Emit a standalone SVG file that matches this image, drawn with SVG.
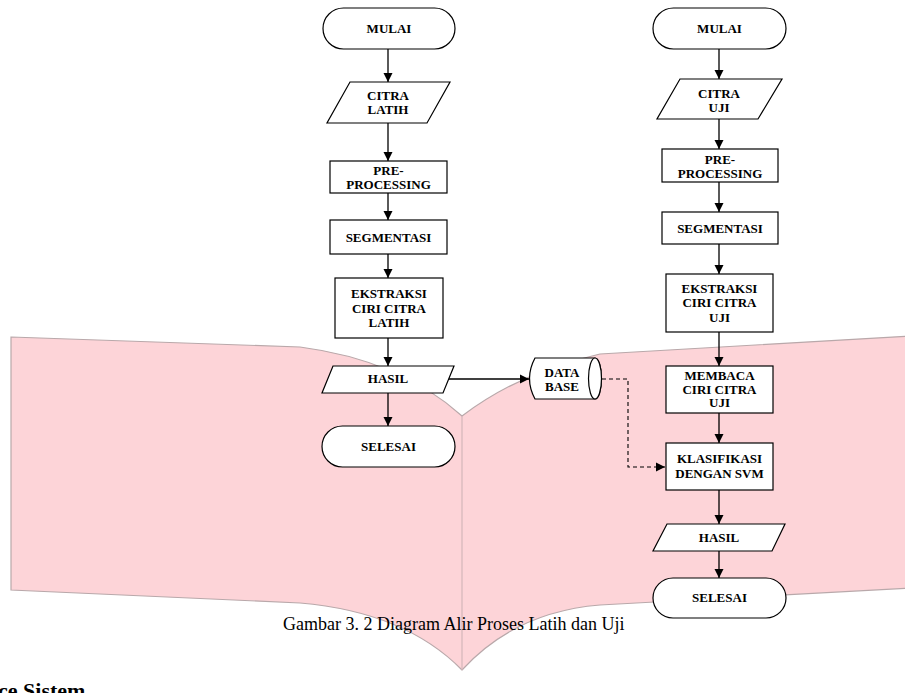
<svg xmlns="http://www.w3.org/2000/svg" width="905" height="693" viewBox="0 0 905 693">
<style>
.bg{fill:#fdd4d8;stroke:#b9a8aa;stroke-width:1.2}
.n{fill:#fff;stroke:#000;stroke-width:1.2}
.t{font-family:"Liberation Serif","Times New Roman",serif;font-weight:bold;font-size:13px;text-anchor:middle;fill:#000}
.c{fill:none;stroke:#000;stroke-width:1.3}
.d{fill:none;stroke:#000;stroke-width:1.1;stroke-dasharray:4 3}
.cap{font-family:"Liberation Serif","Times New Roman",serif;font-size:18px;fill:#000}
.hd{font-family:"Liberation Serif","Times New Roman",serif;font-size:22px;font-weight:bold;fill:#000}
</style>
<defs>
<marker id="ah" viewBox="0 0 10 10" refX="9" refY="5" markerWidth="10" markerHeight="10" orient="auto" markerUnits="userSpaceOnUse">
<path d="M0,0.5 L9,5 L0,9.5 Z" fill="#000"/>
</marker>
</defs>

<g id="book">
<path class="bg" d="M11,337 L300,347 Q400,360 462,416 Q520,372 600,354 L910,336 L910,588 L600,605 Q515,612 462,670 Q405,612 300,603 L11,590 Z"/>
<line x1="462" y1="416" x2="462" y2="670" stroke="#d4b6ba" stroke-width="1.2"/>
</g>

<g id="connectors">
<line class="c" x1="388" y1="49" x2="388" y2="82" marker-end="url(#ah)"/>
<line class="c" x1="388" y1="123" x2="388" y2="161" marker-end="url(#ah)"/>
<line class="c" x1="388" y1="193" x2="388" y2="220" marker-end="url(#ah)"/>
<line class="c" x1="388" y1="254" x2="388" y2="278" marker-end="url(#ah)"/>
<line class="c" x1="388" y1="338" x2="388" y2="366" marker-end="url(#ah)"/>
<line class="c" x1="388" y1="393" x2="388" y2="426" marker-end="url(#ah)"/>
<line class="c" x1="448" y1="379" x2="529" y2="379" marker-end="url(#ah)"/>
<path class="d" d="M602,379 L628,379 L628,467 L665,467" marker-end="url(#ah)"/>
<line class="c" x1="719" y1="49" x2="719" y2="79" marker-end="url(#ah)"/>
<line class="c" x1="719" y1="119" x2="719" y2="149" marker-end="url(#ah)"/>
<line class="c" x1="719" y1="182" x2="719" y2="212" marker-end="url(#ah)"/>
<line class="c" x1="719" y1="244" x2="719" y2="274" marker-end="url(#ah)"/>
<line class="c" x1="719" y1="332" x2="719" y2="366" marker-end="url(#ah)"/>
<line class="c" x1="719" y1="413" x2="719" y2="443" marker-end="url(#ah)"/>
<line class="c" x1="719" y1="490" x2="719" y2="524" marker-end="url(#ah)"/>
<line class="c" x1="719" y1="551" x2="719" y2="578" marker-end="url(#ah)"/>
</g>

<g id="l-mulai"><rect class="n" x="323" y="8" width="132" height="41" rx="20.5"/><text class="t" x="389" y="33">MULAI</text></g>
<g id="l-citra"><polygon class="n" points="350,82 450,82 427,123 327,123"/><text class="t" x="388" y="100">CITRA</text><text class="t" x="388" y="114">LATIH</text></g>
<g id="l-pre"><rect class="n" x="330" y="161" width="117" height="32"/><text class="t" x="388.5" y="175">PRE-</text><text class="t" x="388.5" y="188.5">PROCESSING</text></g>
<g id="l-seg"><rect class="n" x="330" y="220" width="117" height="34"/><text class="t" x="388.5" y="241.5">SEGMENTASI</text></g>
<g id="l-eks"><rect class="n" x="335" y="278" width="108" height="60"/><text class="t" x="389" y="298">EKSTRAKSI</text><text class="t" x="389" y="312.5">CIRI CITRA</text><text class="t" x="389" y="326.5">LATIH</text></g>
<g id="l-hasil"><polygon class="n" points="333,366 454,366 443,393 322,393"/><text class="t" x="388" y="383">HASIL</text></g>
<g id="l-selesai"><rect class="n" x="322" y="426" width="133" height="41" rx="20.5"/><text class="t" x="388.5" y="451">SELESAI</text></g>

<g id="database"><path class="n" d="M535,358 L595,358 A6.5,20.5 0 0 1 595,399 L535,399 Q524,378.5 535,358 Z"/><ellipse class="n" cx="595" cy="378.5" rx="6.5" ry="20.5"/><text class="t" x="562" y="376.5">DATA</text><text class="t" x="562" y="390.5">BASE</text></g>

<g id="r-mulai"><rect class="n" x="653" y="8" width="133" height="41" rx="20.5"/><text class="t" x="719.5" y="33">MULAI</text></g>
<g id="r-citra"><polygon class="n" points="680,79 782,79 758,119 657,119"/><text class="t" x="719" y="98">CITRA</text><text class="t" x="719" y="112">UJI</text></g>
<g id="r-pre"><rect class="n" x="662" y="149" width="116" height="33"/><text class="t" x="720" y="164">PRE-</text><text class="t" x="720" y="177.5">PROCESSING</text></g>
<g id="r-seg"><rect class="n" x="662" y="212" width="116" height="32"/><text class="t" x="720" y="233">SEGMENTASI</text></g>
<g id="r-eks"><rect class="n" x="666" y="274" width="107" height="58"/><text class="t" x="719.5" y="293">EKSTRAKSI</text><text class="t" x="719.5" y="307">CIRI CITRA</text><text class="t" x="719.5" y="321.5">UJI</text></g>
<g id="r-membaca"><rect class="n" x="666" y="366" width="107" height="47"/><text class="t" x="719.5" y="380">MEMBACA</text><text class="t" x="719.5" y="393.5">CIRI CITRA</text><text class="t" x="719.5" y="407">UJI</text></g>
<g id="r-klas"><rect class="n" x="666" y="443" width="107" height="47"/><text class="t" x="719.5" y="463">KLASIFIKASI</text><text class="t" x="719.5" y="478">DENGAN SVM</text></g>
<g id="r-hasil"><polygon class="n" points="667,524 785,524 772,551 653,551"/><text class="t" x="719" y="541.5">HASIL</text></g>
<g id="r-selesai"><rect class="n" x="653" y="578" width="133" height="40" rx="20"/><text class="t" x="719.5" y="602">SELESAI</text></g>

<text class="cap" x="283" y="630">Gambar 3. 2 Diagram Alir Proses Latih dan Uji</text>
<text class="hd" x="-2" y="698">ce Sistem</text>
</svg>
